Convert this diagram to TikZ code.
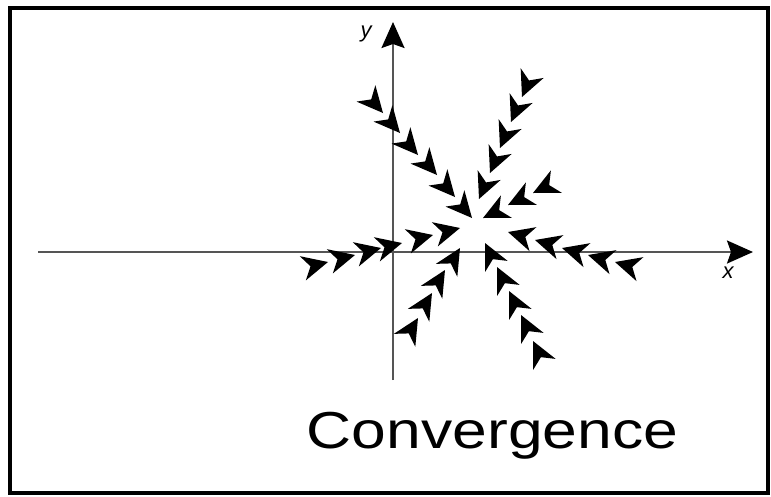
\documentclass[tikz,border=0pt]{standalone}
\usepackage{fontspec}
\setmainfont{Liberation Sans}
\usepackage{tikz}
\usetikzlibrary{arrows.meta, positioning}
\definecolor{axisgray}{RGB}{85, 85, 85}

\tikzset{
  axisline/.style={draw=axisgray, line width=2.2pt, -{Stealth[length=26pt, width=23pt, inset=4pt, black]}},
  flowtip/.pic={\fill (0,0) -- (-26,12.5) -- (-18,0) -- (-26,-12.5) -- cycle;},
  axislabel/.style={font=\fontsize{22}{22}\selectfont\itshape, inner sep=0pt}
}

\begin{document}
\begin{tikzpicture}[x=1pt, y=1pt]
  \useasboundingbox (0,0) rectangle (771,-496);
  \draw[line width=4pt] (9.5,-7.5) rectangle (767.5,-493);

  % axes
  \coordinate (xstart) at (38,-252);
  \coordinate (xend) at (753,-252);
  \coordinate (ystart) at (393,-380);
  \coordinate (yend) at (393,-22);
  \draw[axisline] (xstart) -- (xend);
  \draw[axisline] (ystart) -- (yend);
  \node[axislabel] (xlabel) at (728,-273) {x};
  \node[axislabel] (ylabel) at (366,-34) {y};

  % flow arrows towards the equilibrium
  \foreach \p in {(383,-113),(400,-133),(418,-155),(437,-175),(455,-197),(472,-218)}
    \pic[rotate=-49] at \p {flowtip};
  \foreach \p in {(522,-97),(511,-122),(500,-148),(490,-173),(479,-199)}
    \pic[rotate=-113] at \p {flowtip};
  \foreach \p in {(533,-193),(508,-205),(483,-218)}
    \pic[rotate=206] at \p {flowtip};
  \foreach \p in {(508,-232),(535,-240),(562,-248),(588,-255),(615,-262)}
    \pic[rotate=164] at \p {flowtip};
  \foreach \p in {(485,-243),(497,-267),(509,-291),(521,-315),(533,-341)}
    \pic[rotate=116] at \p {flowtip};
  \foreach \p in {(418,-318),(432,-293),(445,-270),(460,-248)}
    \pic[rotate=59] at \p {flowtip};
  \foreach \p in {(328,-262),(355,-255),(381,-248),(402,-243),(433,-235),(460,-228)}
    \pic[rotate=14] at \p {flowtip};

  \node[font=\fontsize{52}{52}\selectfont, xscale=1.2, anchor=base, inner sep=0pt] (title) at (492.5,-448) {Convergence};
\end{tikzpicture}
\end{document}
